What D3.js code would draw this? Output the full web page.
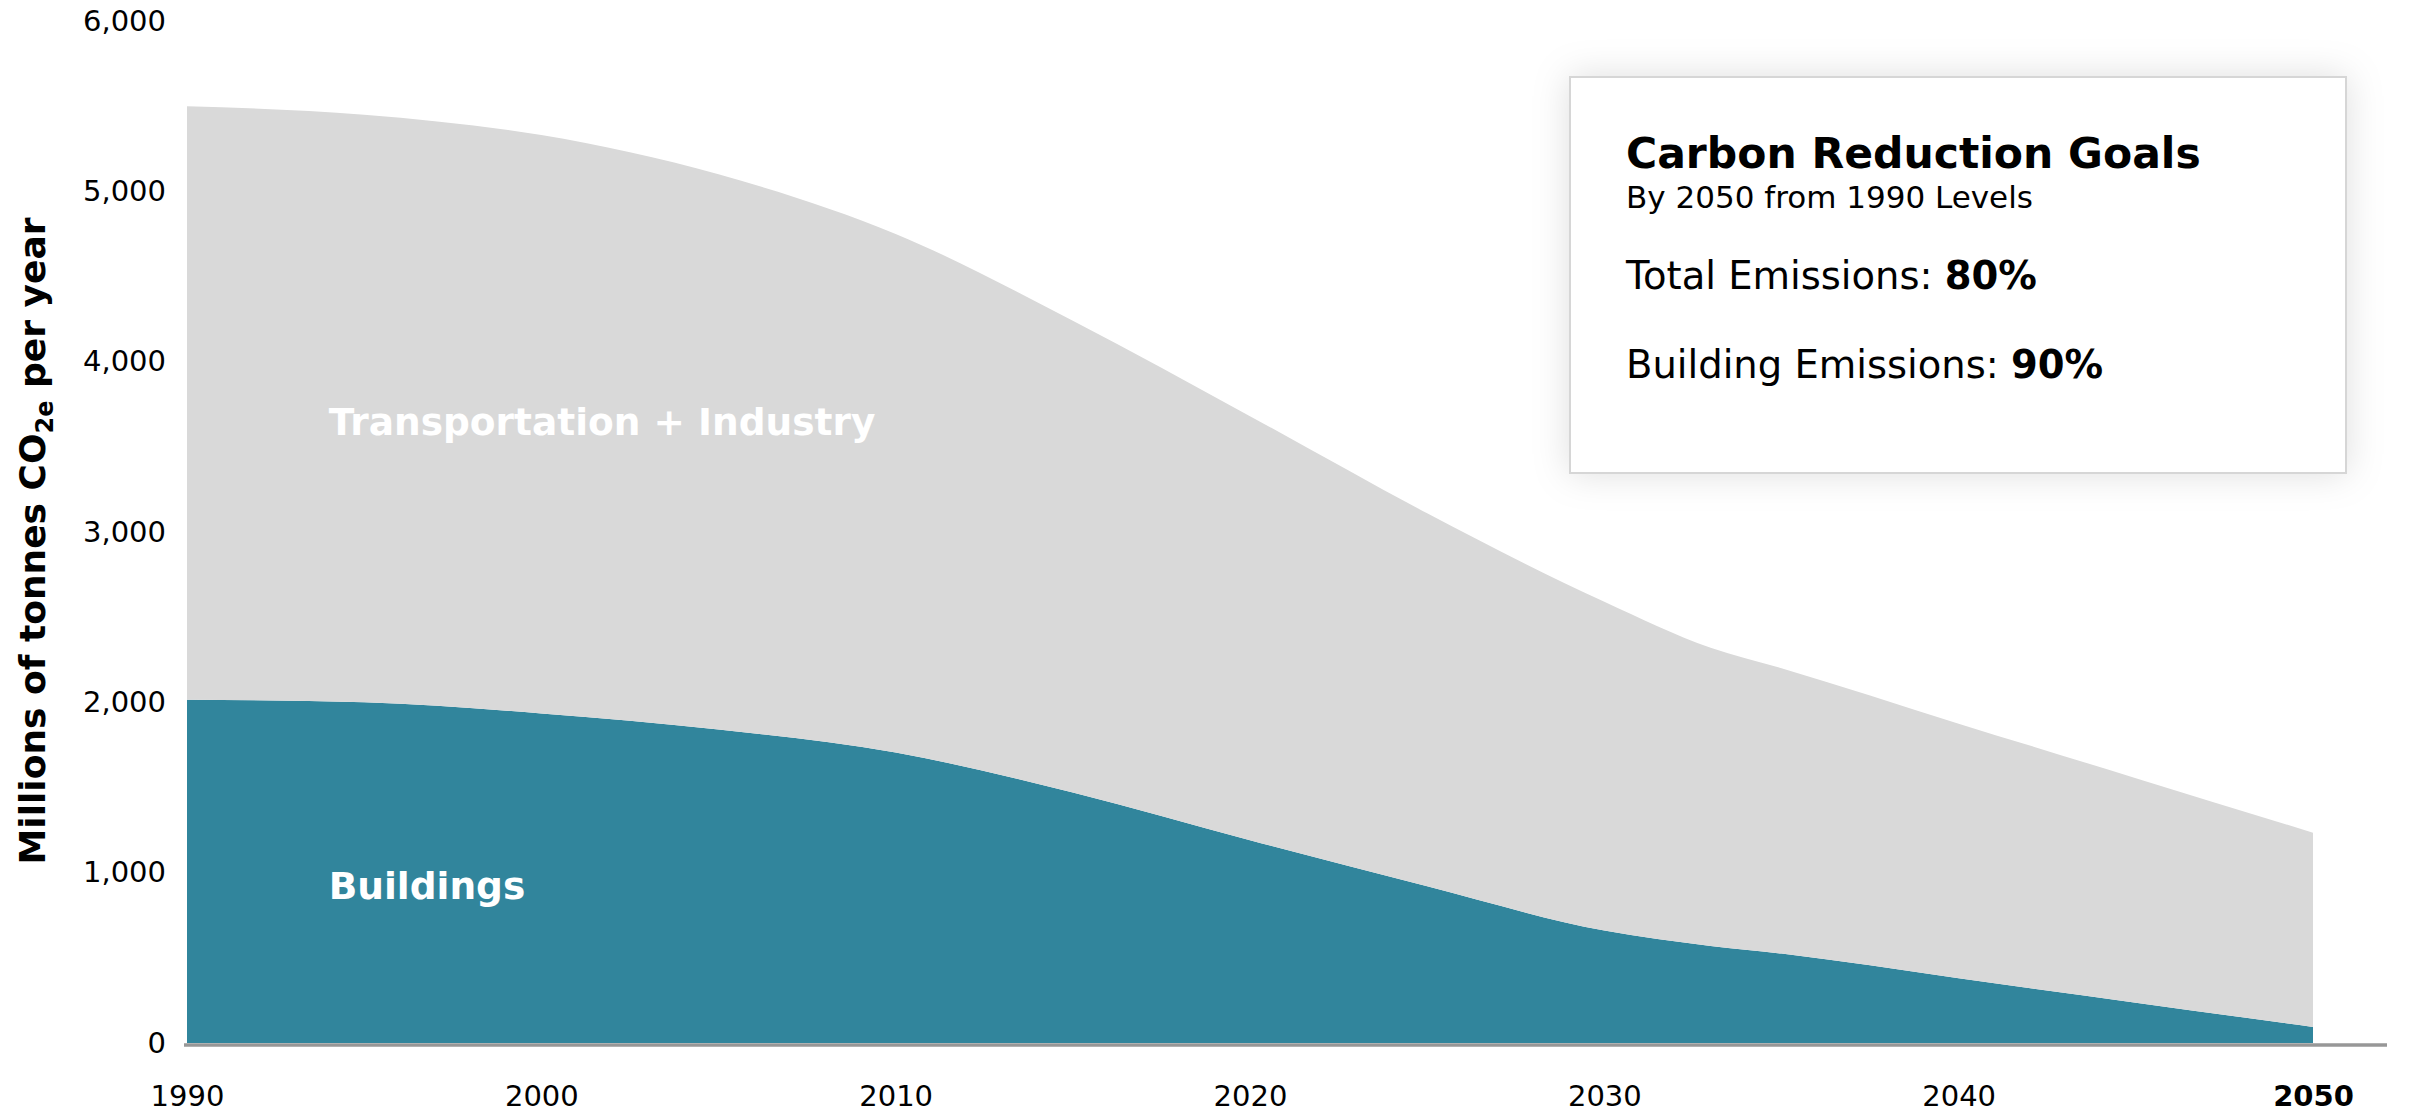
<!DOCTYPE html>
<html>
<head>
<meta charset="utf-8">
<script src="https://cdn.jsdelivr.net/npm/d3@7"></script>
<style>
  html, body { margin: 0; padding: 0; background: #fff; }
  svg { display: block; }
  text { font-family: "DejaVu Sans", Verdana, sans-serif; }
</style>
</head>
<body>
<svg id="chart" width="2409" height="1112"></svg>
<script>
// Emissions pathway, millions of tonnes CO2e per year
const years          = [1990, 1995, 2000, 2005, 2010, 2015, 2020, 2025, 2030, 2033, 2035, 2040, 2045, 2050];
const buildings      = [2015, 2000, 1935, 1840, 1705, 1470, 1190,  920,  660,  570,  525,  380,  237,   94];
const transportation = [3485, 3450, 3395, 3260, 3045, 2770, 2490, 2190, 1930, 1750, 1675, 1495, 1318, 1141];

const seriesKeys   = ["buildings", "transportation"];
const seriesLabels = ["Buildings", "Transportation + Industry"];
const seriesColors = ["#31859c", "#d9d9d9"];

const yTicks = [0, 1000, 2000, 3000, 4000, 5000, 6000];
const xTicks = [1990, 2000, 2010, 2020, 2030, 2040, 2050];

const goalTitle    = "Carbon Reduction Goals";
const goalSubtitle = "By 2050 from 1990 Levels";
const goalLines    = [["Total Emissions: ", "80%"], ["Building Emissions: ", "90%"]];

const rows = years.map((yr, i) => ({ year: yr, buildings: buildings[i], transportation: transportation[i] }));

const svg = d3.select("#chart");

const x = d3.scaleLinear().domain([1990, 2050]).range([187, 2313]);
const y = d3.scaleLinear().domain([0, 6000]).range([1043, 21]);

// stacked areas
const stacked = d3.stack().keys(seriesKeys)(rows);
const area = d3.area()
  .x(d => x(d.data.year))
  .y0(d => y(d[0]))
  .y1(d => y(d[1]))
  .curve(d3.curveMonotoneX);

svg.append("g").selectAll("path")
  .data(stacked)
  .join("path")
  .attr("d", area)
  .attr("fill", (d, i) => seriesColors[i]);

// series labels inside the areas
const labelPos = [{ year: 1994.0, value: 845 }, { year: 1994.0, value: 3570 }];
svg.append("g").selectAll("text")
  .data(seriesLabels)
  .join("text")
  .attr("x", (d, i) => x(labelPos[i].year))
  .attr("y", (d, i) => y(labelPos[i].value))
  .attr("fill", "#fff")
  .attr("font-weight", "bold")
  .attr("font-size", 37.5)
  .text(d => d);

// baseline
svg.append("line")
  .attr("x1", x(1990) - 3).attr("x2", x(2050) + 74)
  .attr("y1", y(0) + 2).attr("y2", y(0) + 2)
  .attr("stroke", "#979797")
  .attr("stroke-width", 3.5);

// y axis
const yAxis = svg.append("g")
  .attr("transform", "translate(166,0)")
  .call(d3.axisLeft(y).tickValues(yTicks).tickFormat(d3.format(",")).tickSizeInner(0).tickSizeOuter(0).tickPadding(0));
yAxis.select(".domain").remove();
yAxis.selectAll("text").attr("font-size", 29).attr("fill", "#000")
  .style("font-family", "'DejaVu Sans', Verdana, sans-serif");

// x axis
const xAxis = svg.append("g")
  .attr("transform", `translate(0,${y(0)})`)
  .call(d3.axisBottom(x).tickValues(xTicks).tickFormat(d3.format("d")).tickSizeInner(0).tickSizeOuter(0).tickPadding(42));
xAxis.select(".domain").remove();
xAxis.selectAll("text").attr("font-size", 29).attr("fill", "#000")
  .style("font-family", "'DejaVu Sans', Verdana, sans-serif")
  .attr("font-weight", d => d === 2050 ? "bold" : "normal");

// y axis title with subscript
const yTitle = svg.append("text")
  .attr("transform", "translate(45,541) rotate(-90)")
  .attr("text-anchor", "middle")
  .attr("font-weight", "bold")
  .attr("font-size", 36)
  .attr("fill", "#000");
yTitle.append("tspan").text("Millions of tonnes CO");
yTitle.append("tspan").attr("font-size", 24).attr("dy", 8).text("2e");
yTitle.append("tspan").attr("dy", -8).text(" per year");

// goals panel
const defs = svg.append("defs");
const glow = defs.append("filter").attr("id", "panelGlow")
  .attr("x", "-20%").attr("y", "-30%").attr("width", "140%").attr("height", "160%");
glow.append("feDropShadow")
  .attr("dx", 0).attr("dy", 0)
  .attr("stdDeviation", 18)
  .attr("flood-color", "#000")
  .attr("flood-opacity", 0.13);

const panel = svg.append("g");
panel.append("rect")
  .attr("x", 1570).attr("y", 77)
  .attr("width", 776).attr("height", 396)
  .attr("fill", "#fff")
  .attr("stroke", "#d6d6d6")
  .attr("stroke-width", 2)
  .attr("filter", "url(#panelGlow)");

panel.append("text")
  .attr("x", 1626).attr("y", 168)
  .attr("font-weight", "bold").attr("font-size", 42.5).attr("fill", "#000")
  .text(goalTitle);
panel.append("text")
  .attr("x", 1626).attr("y", 208)
  .attr("font-size", 31).attr("fill", "#000")
  .text(goalSubtitle);

const lineY = [289, 378];
goalLines.forEach((ln, i) => {
  const t = panel.append("text")
    .attr("x", 1626).attr("y", lineY[i])
    .attr("font-size", 38.5).attr("fill", "#000");
  t.append("tspan").text(ln[0]);
  t.append("tspan").attr("font-weight", "bold").text(ln[1]);
});
</script>
</body>
</html>
